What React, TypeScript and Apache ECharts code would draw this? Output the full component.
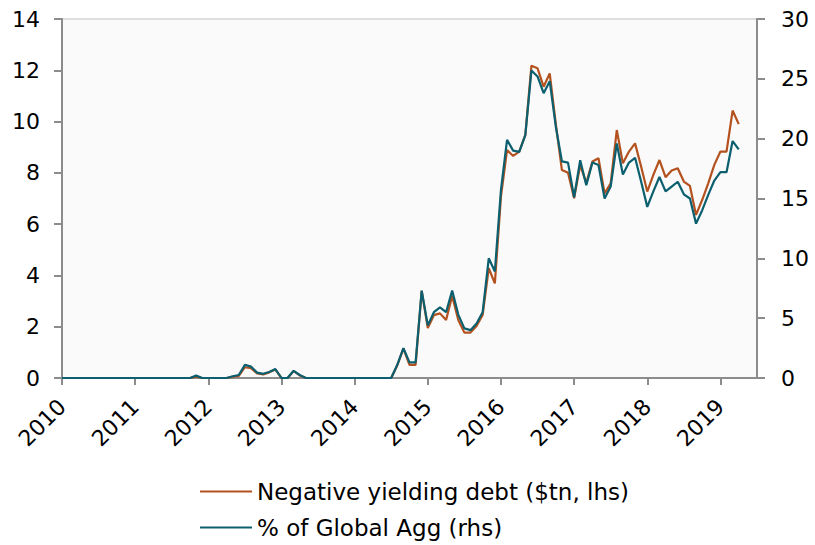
import React, { useEffect, useRef } from "react";
import * as echarts from "echarts";

// Monthly observations, January 2010 to April 2019 (index 0 = Jan 2010)
const negYieldDebt: number[] = [
  0, 0, 0, 0, 0, 0, 0, 0, 0, 0, 0, 0,
  0, 0, 0, 0, 0, 0, 0, 0, 0, 0, 0.05, 0,
  0, 0, 0, 0, 0.05, 0.08, 0.42, 0.38, 0.18, 0.14, 0.22, 0.33,
  0, 0, 0.27, 0.1, 0, 0, 0, 0, 0, 0, 0, 0,
  0, 0, 0, 0, 0, 0, 0, 0.5, 1.15, 0.51, 0.51, 3.4,
  1.95, 2.45, 2.52, 2.26, 3.2, 2.26, 1.77, 1.77, 2.03, 2.46, 4.28, 3.69,
  7.07, 8.89, 8.66, 8.83, 9.48, 12.18, 12.08, 11.36, 11.88, 9.9, 8.11, 8.0,
  7.01, 8.3, 7.6, 8.44, 8.57, 7.2, 7.59, 9.67, 8.37, 8.83, 9.15, 8.24,
  7.27, 7.92, 8.5, 7.83, 8.09, 8.18, 7.66, 7.49, 6.36, 6.94, 7.59, 8.31,
  8.83, 8.83, 10.43, 9.9,
];

const pctGlobalAgg: number[] = [
  0, 0, 0, 0, 0, 0, 0, 0, 0, 0, 0, 0,
  0, 0, 0, 0, 0, 0, 0, 0, 0, 0, 0.2, 0,
  0, 0, 0, 0, 0.15, 0.25, 1.1, 0.95, 0.45, 0.35, 0.5, 0.75,
  0, 0, 0.6, 0.25, 0, 0, 0, 0, 0, 0, 0, 0,
  0, 0, 0, 0, 0, 0, 0, 1.1, 2.5, 1.3, 1.3, 7.3,
  4.4, 5.5, 5.9, 5.5, 7.3, 5.3, 4.15, 4.0, 4.55, 5.5, 10.0, 8.9,
  15.7, 19.9, 19.0, 18.9, 20.3, 25.7, 25.2, 23.8, 24.8, 21.0, 18.1, 18.0,
  15.1, 18.2, 16.1, 18.0, 17.8, 15.0, 16.0, 19.6, 17.0, 18.0, 18.4, 16.4,
  14.3, 15.6, 16.8, 15.6, 16.0, 16.4, 15.35, 15.0, 12.9, 14.0, 15.3, 16.5,
  17.2, 17.2, 19.8, 19.1,
];

const yearLabels: string[] = [
  "2010", "2011", "2012", "2013", "2014", "2015", "2016", "2017", "2018", "2019",
];

const seriesNames: string[] = [
  "Negative yielding debt ($tn, lhs)",
  "% of Global Agg (rhs)",
];

const ORANGE = "#b4521f";
const TEAL = "#0c5f6e";
const AXIS_GREY = "#8c8c8c";
const FONT = "DejaVu Sans";

// one legend row per series, stacked under the plot
const legendRow = (name: string, top: number) => ({
  orient: "horizontal",
  left: 200,
  top,
  padding: 0,
  itemWidth: 52,
  itemHeight: 2,
  itemGap: 0,
  icon: "rect",
  data: [name],
  textStyle: { fontFamily: FONT, fontSize: 23, color: "#000" },
});

export default function App() {
  const ref = useRef<HTMLDivElement>(null);

  useEffect(() => {
    if (!ref.current) return;
    const chart = echarts.init(ref.current, undefined, { renderer: "svg" });

    const yearTicks = yearLabels.map((_, i) => i * 12);

    chart.setOption({
      animation: false,
      backgroundColor: "#ffffff",
      textStyle: { fontFamily: FONT },
      grid: {
        left: 62,
        right: 58,
        top: 19,
        bottom: 167,
        show: true,
        backgroundColor: "#fafafa",
        borderColor: "#d4d4d4",
        borderWidth: 1.5,
      },
      legend: [legendRow(seriesNames[0], 480), legendRow(seriesNames[1], 516)],
      xAxis: {
        type: "value",
        min: 0,
        max: 114,
        interval: 12,
        axisLine: { show: true, lineStyle: { color: AXIS_GREY, width: 2 } },
        axisTick: {
          show: true,
          length: 7,
          customValues: yearTicks,
          lineStyle: { color: AXIS_GREY, width: 2 },
        },
        axisLabel: {
          customValues: yearTicks,
          rotate: 45,
          margin: 25,
          fontFamily: FONT,
          fontSize: 22,
          color: "#000",
          formatter: (v: number) => yearLabels[Math.round(v / 12)] ?? "",
        },
        splitLine: { show: false },
      },
      yAxis: [
        {
          type: "value",
          position: "left",
          min: 0,
          max: 14,
          interval: 2,
          axisLine: { show: true, lineStyle: { color: AXIS_GREY, width: 2 } },
          axisTick: { show: true, length: 8, lineStyle: { color: AXIS_GREY, width: 2 } },
          axisLabel: { margin: 22, fontFamily: FONT, fontSize: 22, color: "#000" },
          splitLine: { show: false },
        },
        {
          type: "value",
          position: "right",
          min: 0,
          max: 30,
          interval: 5,
          axisLine: { show: true, lineStyle: { color: AXIS_GREY, width: 2 } },
          axisTick: { show: true, length: 8, lineStyle: { color: AXIS_GREY, width: 2 } },
          axisLabel: { margin: 24, fontFamily: FONT, fontSize: 22, color: "#000" },
          splitLine: { show: false },
        },
      ],
      series: [
        {
          name: seriesNames[0],
          type: "line",
          yAxisIndex: 0,
          symbol: "none",
          color: ORANGE,
          lineStyle: { color: ORANGE, width: 2.2 },
          data: negYieldDebt.map((v, i) => [i, v]),
          z: 2,
        },
        {
          name: seriesNames[1],
          type: "line",
          yAxisIndex: 1,
          symbol: "none",
          color: TEAL,
          lineStyle: { color: TEAL, width: 2.2 },
          data: pctGlobalAgg.map((v, i) => [i, v]),
          z: 3,
        },
      ],
    });

    return () => chart.dispose();
  }, []);

  return (
    <div
      ref={ref}
      style={{ position: "fixed", left: 0, top: 0, width: 815, height: 545 }}
    />
  );
}
